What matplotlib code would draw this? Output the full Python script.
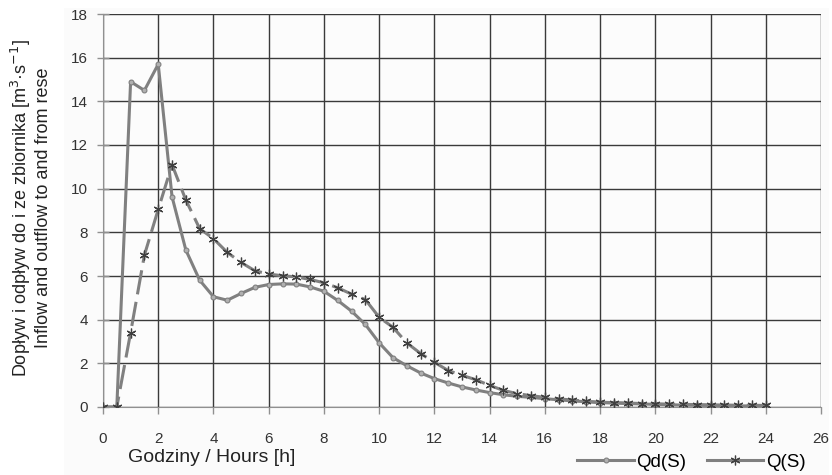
import matplotlib
matplotlib.use("Agg")
import matplotlib.pyplot as plt

plt.rcParams['font.family'] = ['Liberation Sans', 'DejaVu Sans']

hours = [i * 0.5 for i in range(49)]
qd = [0.0, 0.0, 14.9, 14.5, 15.7, 9.63, 7.19, 5.81, 5.05, 4.89, 5.2, 5.48, 5.61, 5.64, 5.63,
      5.5, 5.3, 4.88, 4.39, 3.78, 2.94, 2.26, 1.89, 1.56, 1.30, 1.10, 0.92, 0.78, 0.66,
      0.56, 0.49, 0.44, 0.38, 0.33, 0.28, 0.24, 0.20, 0.18, 0.16, 0.14, 0.12, 0.10, 0.09,
      0.08, 0.07, 0.06, 0.05, 0.05, 0.04]
q = [0.0, 0.0, 3.41, 6.96, 9.05, 11.1, 9.48, 8.17, 7.71, 7.08, 6.62, 6.24, 6.09, 6.01, 5.96,
     5.84, 5.69, 5.46, 5.17, 4.92, 4.11, 3.65, 2.94, 2.45, 2.05, 1.67, 1.45, 1.25, 0.99,
     0.76, 0.61, 0.52, 0.44, 0.37, 0.32, 0.26, 0.22, 0.20, 0.18, 0.16, 0.15, 0.13, 0.12,
     0.11, 0.10, 0.09, 0.08, 0.08, 0.07]

xticks = list(range(0, 27, 2))
yticks = list(range(0, 19, 2))

fig = plt.figure(figsize=(8.32, 4.75), dpi=100)
# light plot-area backdrop
bg = plt.Rectangle((64/832, 0), (829-64)/832, (475-8)/475,
                   transform=fig.transFigure, facecolor='#fbfbfb',
                   edgecolor='none', zorder=-10)
fig.add_artist(bg)
ax = fig.add_axes([103/832, 1 - 407/475, (821-103)/832, (407-14)/475])
ax.set_zorder(2)
ax.set_facecolor('#fcfcfc')

ax.plot(hours, qd, color='#808080', lw=2.2, marker='o', ms=3.5,
        mfc='#b0b0b0', mec='#808080', mew=0.8, label='Qd(S)', zorder=3)
ax.plot(hours, q, color='#808080', lw=2.2, ls=(0, (8, 2.5)), marker=(6, 2, 0), ms=7,
        mec='#404040', mew=0.9, label='Q(S)', zorder=4)

ax.set_xlim(0, 26)
ax.set_ylim(0, 18)
ax.set_xticks(xticks)
ax.set_yticks(yticks)
ax.grid(True, color='#3a3a3a', lw=1.0)
ax.set_axisbelow(True)
for s in ['top', 'right']:
    ax.spines[s].set_visible(False)
ax.spines['left'].set_color('#909090')
ax.spines['bottom'].set_color('#909090')
ax.tick_params(axis='both', colors='#909090', labelcolor='#333333', labelsize=11, width=1)
ax.tick_params(axis='x', length=5, pad=13)
ax.tick_params(axis='y', length=8, direction='inout', pad=7)

fig.text(128/832, 1 - 458/475, 'Godziny / Hours [h]', fontsize=14, color='#222222',
         ha='left', va='center')
fig.text(21/832, 1 - 208/475, 'Dopływ i odpływ do i ze zbiornika [m$^3$·s$^{-1}$]',
         rotation=90, fontsize=13, color='#222222', ha='center', va='center')
fig.text(44/832, 1 - 208/475, 'Inflow and outflow to and from rese',
         rotation=90, fontsize=13, color='#222222', ha='center', va='center')

leg = fig.legend(loc='center right', bbox_to_anchor=(0.982, 1 - 462/475), ncol=2,
                 frameon=False, fontsize=13.5, handlelength=3.0, columnspacing=1.1,
                 handletextpad=0.15, borderaxespad=0.2)
for h in leg.legend_handles:
    h.set_linestyle('-')

fig.savefig('out.png', dpi=100)
